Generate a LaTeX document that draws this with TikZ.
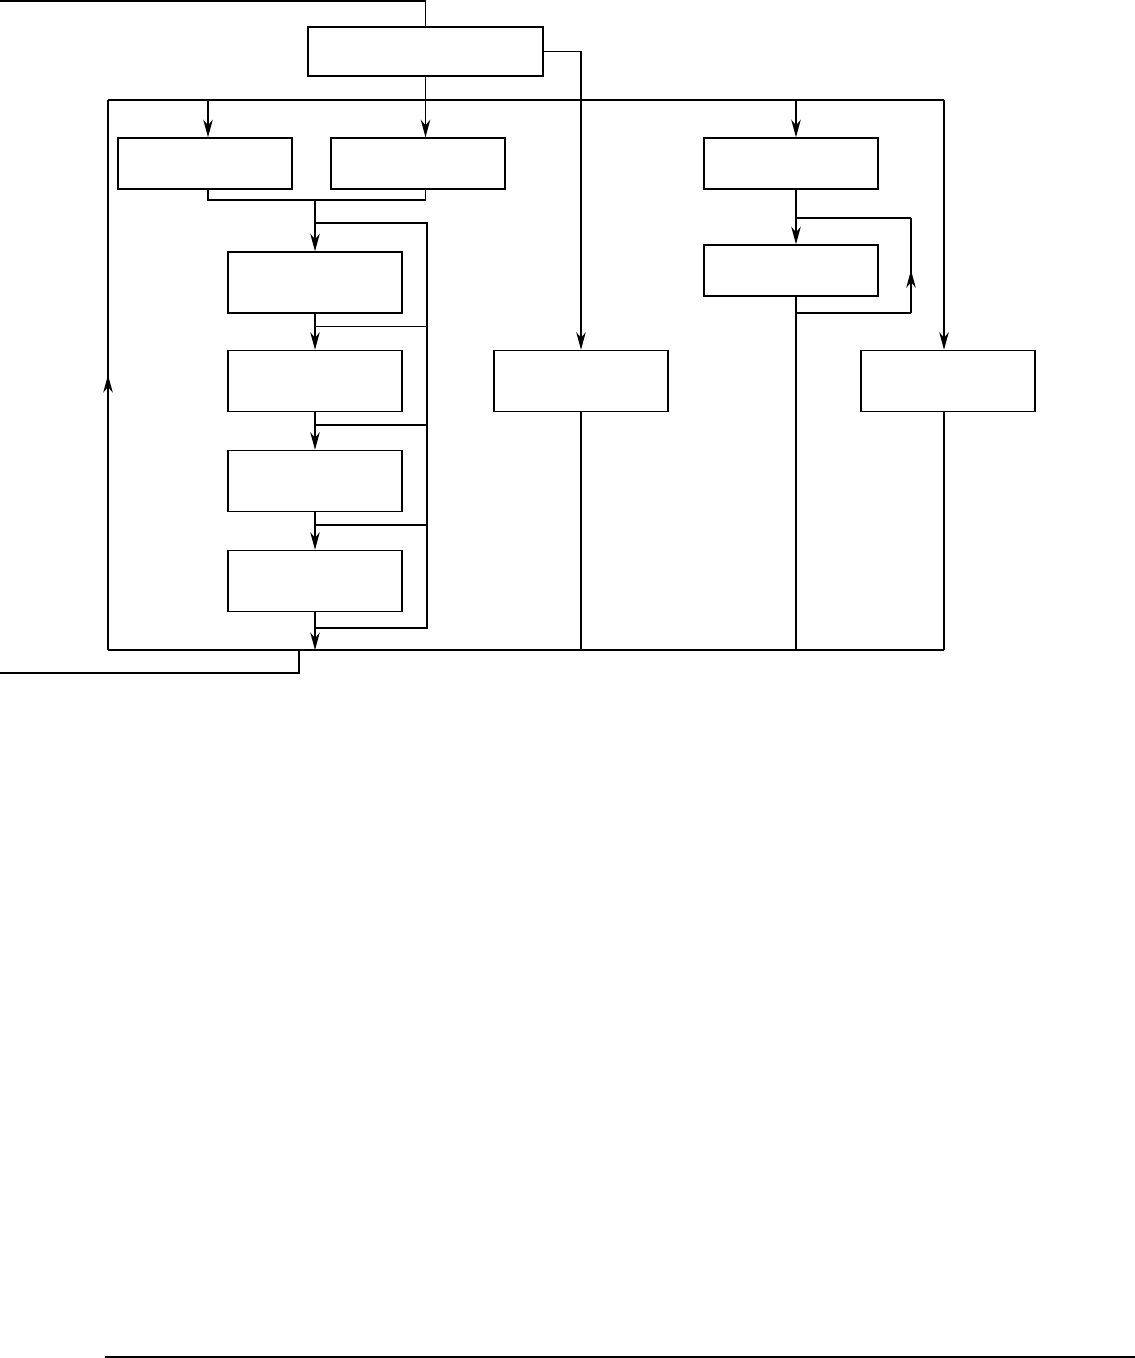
\documentclass[tikz,border=0pt]{standalone}
\usepackage{tikz}
\usetikzlibrary{arrows.meta, positioning, decorations.markings}

\begin{document}
\begin{tikzpicture}[x=0.02cm, y=-0.02cm, line width=0.85pt,
    blk/.style={draw, minimum width=3.48cm, minimum height=1.22cm, inner sep=0pt},
    blkflat/.style={blk, minimum height=1.02cm},
    arr/.style={-{Stealth[length=3.5mm, width=1.9mm, inset=1.1mm]}},
    midarr/.style={postaction={decorate}, decoration={markings,
      mark=at position #1 with {\arrow{Stealth[length=3.5mm, width=1.9mm, inset=1.1mm]}}}}]
  \useasboundingbox (0,0) rectangle (1135,1358);

  \node[blk, minimum width=4.7cm, minimum height=0.98cm] (top) at (425.5,51.5) {};
  \node[blkflat] (a) at (205,163.5) {};
  \node[blkflat] (b) at (418,163.5) {};
  \node[blkflat] (c) at (791,163.5) {};
  \node[blkflat] (c2) at (791,270.5) {};
  \node[blk] (d1) at (315,282.5) {};
  \node[blk] (d2) at (315,381) {};
  \node[blk] (d3) at (315,481) {};
  \node[blk] (d4) at (315,581) {};
  \node[blk] (m) at (581,381) {};
  \node[blk] (r) at (948,381) {};

  \coordinate (in) at (0,1);
  \coordinate (out) at (0,673);
  \coordinate (ex) at (299,650);
  \coordinate (bl) at (108,100);
  \coordinate (br) at (944,100);
  \coordinate (bbl) at (108,650);
  \coordinate (bbr) at (944,650);
  \coordinate (ax) at (208,100);
  \coordinate (cx) at (796,100);
  \coordinate (j) at (315,200);
  \coordinate (lt) at (427,223);
  \coordinate (lb) at (427,628);
  \coordinate (rt) at (911,218);
  \coordinate (rb) at (911,313);
  \coordinate (fl) at (105,1357);
  \coordinate (fr) at (1135,1357);

  \draw (in) -| (top.north);
  \draw[arr] (top.east) -| (m.north);
  \draw[arr] (top.south) -- (top.south |- b.north);
  \draw (bl) -- (br);
  \draw[midarr=0.5] (bbl) -- (bl);
  \draw (bbl) -- (bbr);
  \draw (ex) |- (out);
  \draw[arr] (ax) -- (ax |- a.north);
  \draw[arr] (cx) -- (cx |- c.north);
  \draw[arr] (br) -- (br |- r.north);
  \draw (br |- r.south) -- (bbr);
  \draw (m.south) -- (m.south |- bbl);

  \draw (ax |- a.south) |- (j) -| (top.south |- b.south);
  \draw[arr] (j) -- (d1.north);
  \foreach \i/\j in {1/2, 2/3, 3/4} {
    \draw[arr] (d\i.south) -- (d\j.north);
    \path (d\i.south) ++(0,13) coordinate (h\i);
    \draw (h\i) -- (h\i -| lt);
  }
  \draw[arr] (d4.south) -- (d4.south |- bbl);
  \draw (lt -| j) -- (lt) -- (lb) -- (lb -| d4.south);

  \draw[arr] (cx |- c.south) -- (cx |- c2.north);
  \draw (cx |- c2.south) -- (cx |- bbr);
  \draw (cx |- rb) -- (rb);
  \draw[midarr=0.45] (rb) -- (rt);
  \draw (rt) -- (rt -| cx);

  \draw (fl) -- (fr);
\end{tikzpicture}
\end{document}
